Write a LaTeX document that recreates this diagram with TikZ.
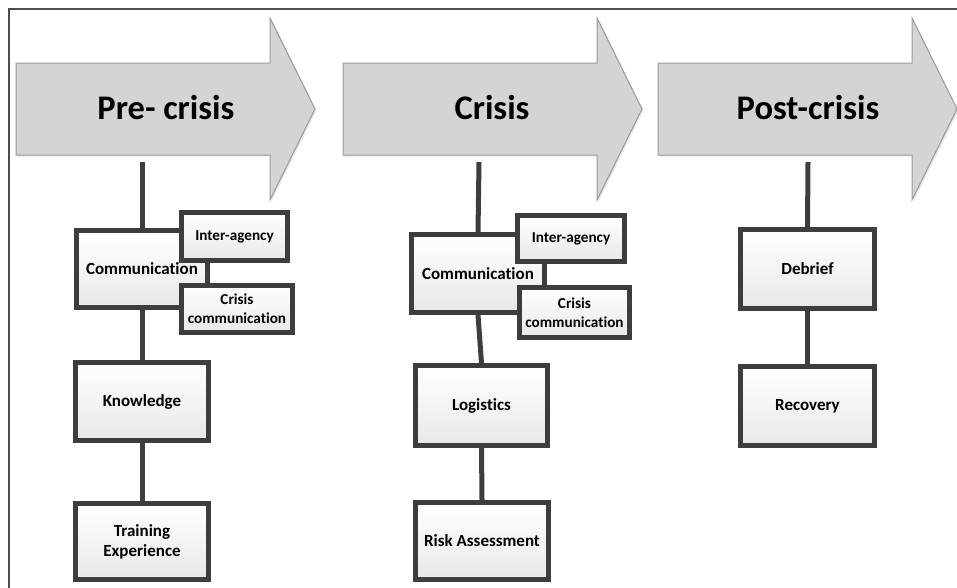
\documentclass[tikz,border=0pt]{standalone}
\usepackage{fontspec}
\setmainfont[Ligatures=NoCommon]{Carlito}
\usetikzlibrary{shadows}
\definecolor{boxline}{HTML}{3D3D3D}
\definecolor{arrowfill}{HTML}{D4D4D4}
\definecolor{arrowline}{HTML}{9A9A9A}
\tikzset{
  phasearrow/.style={fill=arrowfill, draw=arrowline, line width=1pt, line join=miter,
    drop shadow={shadow xshift=1.5pt, shadow yshift=-1.5pt, opacity=0.2}},
  phasetitle/.style={font=\bfseries\fontsize{34.5}{38}\selectfont, text=black},
  itembox/.style={draw=boxline, line width=5pt, top color=white, bottom color=black!9,
    font=\bfseries\fontsize{17}{20}\selectfont, align=center, inner sep=0pt,
    drop shadow={shadow xshift=1.5pt, shadow yshift=-1.5pt, opacity=0.25}},
  subbox/.style={itembox, font=\bfseries\fontsize{15.2}{19}\selectfont},
  link/.style={draw=boxline, line width=5pt},
}
\begin{document}
\begin{tikzpicture}[x=1pt,y=-1pt]
\useasboundingbox (0,0) rectangle (957,587);
% frame
\draw[color=black!70, line width=1.5pt] (9,600) -- (9,9) -- (970,9);
% phase arrows
\draw[phasearrow] (16,63) -- (270,63) -- (270,18) -- (315,109) -- (270,200) -- (270,155) -- (16,155) -- cycle;
\draw[phasearrow] (343,63) -- (597,63) -- (597,18) -- (642,109) -- (597,200) -- (597,155) -- (343,155) -- cycle;
\draw[phasearrow] (658,63) -- (912,63) -- (912,18) -- (957,109) -- (912,200) -- (912,155) -- (658,155) -- cycle;
\node[phasetitle] (t1) at (166,108) {Pre- crisis};
\node[phasetitle] (t2) at (492,108) {Crisis};
\node[phasetitle] (t3) at (808,108) {Post-crisis};
\coordinate (s1) at (142,162);
\coordinate (s2) at (479,162);
\coordinate (s3) at (808,162);
% Pre-crisis column
\node[itembox, minimum width=131pt, minimum height=77pt] (comm1) at (142,269) {Communication};
\node[subbox, minimum width=106pt, minimum height=48pt] (ia1) at (234.5,236.5) {Inter-agency};
\node[subbox, minimum width=111pt, minimum height=47pt] (cc1) at (237,309) {Crisis\\communication};
\node[itembox, minimum width=133pt, minimum height=78pt] (kn) at (142,401.5) {Knowledge};
\node[itembox, minimum width=133pt, minimum height=76pt] (tr) at (142,541.5) {Training\\Experience};
% Crisis column
\node[itembox, minimum width=133pt, minimum height=78pt] (comm2) at (478,273.5) {Communication};
\node[subbox, minimum width=107pt, minimum height=46pt] (ia2) at (571,238.5) {Inter-agency};
\node[subbox, minimum width=110pt, minimum height=50pt] (cc2) at (574.5,312.5) {Crisis\\communication};
\node[itembox, minimum width=132pt, minimum height=80pt] (lo) at (481.5,405.5) {Logistics};
\node[itembox, minimum width=133pt, minimum height=77pt] (ra) at (482,541) {Risk Assessment};
% Post-crisis column
\node[itembox, minimum width=134pt, minimum height=79pt] (de) at (807.5,269) {Debrief};
\node[itembox, minimum width=134pt, minimum height=79pt] (re) at (807.5,406) {Recovery};
% connectors
\draw[link] (s1) -- (comm1.north);
\draw[link] (comm1.south) -- (kn.north);
\draw[link] (kn.south) -- (tr.north);
\draw[link] (s2) -- (comm2.north);
\draw[link] (comm2.south) -- (lo.north);
\draw[link] (lo.south) -- (ra.north);
\draw[link] (s3) -- (de.north);
\draw[link] (de.south) -- (re.north);
\end{tikzpicture}
\end{document}
